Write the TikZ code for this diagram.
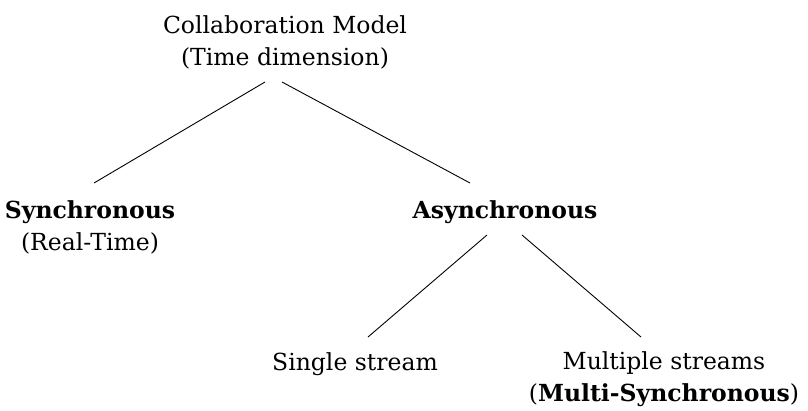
\documentclass[tikz,border=0pt]{standalone}
\usepackage{fontspec}
\setmainfont{DejaVu Serif}
\begin{document}
\begin{tikzpicture}[x=1pt,y=-1pt,
  lbl/.style={font=\fontsize{23.5}{32}\selectfont, inner sep=0pt, align=center, anchor=base},
  edge/.style={line width=0.9pt}]
\useasboundingbox (0,0) rectangle (808,410);
\node[lbl] (root) at (285,65) {Collaboration Model\\(Time dimension)};
\node[lbl] (sync) at (90,250) {\textbf{Synchronous}\\(Real-Time)};
\node[lbl] (async) at (505,218) {\textbf{Asynchronous}};
\node[lbl] (single) at (355,370) {Single stream};
\node[lbl] (multi) at (664,401) {Multiple streams\\(\textbf{Multi-Synchronous})};
\coordinate (rl) at (265,82);
\coordinate (rr) at (282,82);
\coordinate (st) at (94,183);
\coordinate (at) at (470,183);
\coordinate (al) at (487,235);
\coordinate (ar) at (522,235);
\coordinate (sb) at (368,337);
\coordinate (mb) at (641,337);
\draw[edge] (rl) -- (st);
\draw[edge] (rr) -- (at);
\draw[edge] (al) -- (sb);
\draw[edge] (ar) -- (mb);
\end{tikzpicture}
\end{document}
